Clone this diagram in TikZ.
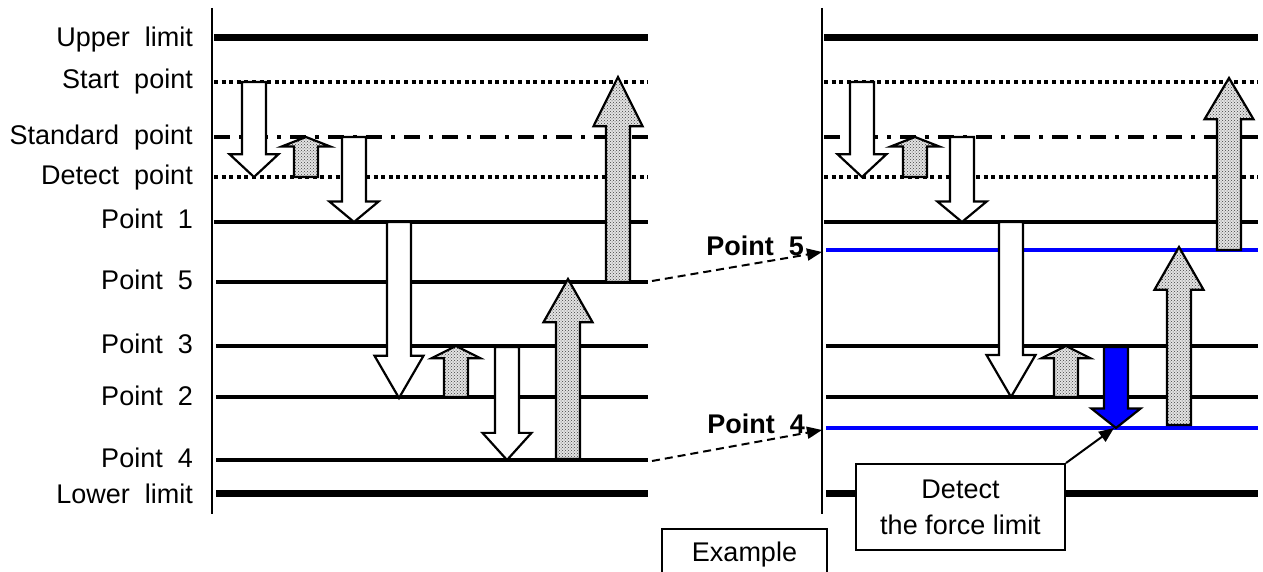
\documentclass[tikz,border=0pt]{standalone}
\usepackage{fontspec}
\setmainfont{Liberation Sans}
\usetikzlibrary{arrows.meta,patterns}

% block arrow: x, tail y, tip y (head grows with the length)
\newcommand{\blockarrow}[4][]{%
  \pgfmathsetmacro\neckY{#4-0.24*(#4-#3)}%
  \draw[blockline,#1] (#2-12,#3) -- (#2-12,\neckY) -- (#2-24.5,\neckY) -- (#2,#4)
    -- (#2+24.5,\neckY) -- (#2+12,\neckY) -- (#2+12,#3) -- cycle;}

\begin{document}
\begin{tikzpicture}[x=1pt, y=-1pt, font=\fontsize{27}{36}\selectfont,
  axis/.style={line width=2pt},
  limit/.style={line width=7pt},
  level/.style={line width=3.5pt},
  dotline/.style={line width=4pt, dash pattern=on 4pt off 3.6pt},
  dashdot/.style={line width=4.5pt, dash pattern=on 16pt off 9pt on 4pt off 9pt},
  newlevel/.style={line width=3.5pt, blue},
  lbl/.style={anchor=base east, inner sep=0pt},
  boldlbl/.style={lbl, font=\fontsize{27}{36}\selectfont\bfseries},
  blockline/.style={draw=black, line width=2.2pt},
  hollow/.style={fill=white},
  dotfill/.style={preaction={fill=gray!22}, pattern=crosshatch dots, pattern color=black!75},
  bluefill/.style={fill=blue},
  link/.style={line width=2pt, dash pattern=on 8pt off 5pt, -{Triangle[length=15pt,width=12pt]}},
  pointer/.style={line width=2pt, -{Triangle[length=15pt,width=12pt]}}]

\useasboundingbox (0,0) rectangle (1263,572);

%osi
\draw[axis] (212,8) -- (212,514);
\draw[axis] (822,8) -- (822,514);

%lijeva razina
\draw[limit] (214,38) -- (648,38);
\draw[dotline] (214,82) -- (648,82);
\draw[dashdot] (214,137) -- (648,137);
\draw[dotline] (214,177) -- (648,177);
\draw[level] (214,222) -- (648,222);
\draw[level] (216,282) -- (648,282);
\draw[level] (216,346) -- (648,346);
\draw[level] (216,397) -- (648,397);
\draw[level] (216,460) -- (648,460);
\draw[limit] (216,493) -- (648,493);

%desna razina
\draw[limit] (824,38) -- (1258,38);
\draw[dotline] (824,82) -- (1258,82);
\draw[dashdot] (824,137) -- (1258,137);
\draw[dotline] (824,177) -- (1258,177);
\draw[level] (824,222) -- (1258,222);
\draw[newlevel] (826,250) -- (1258,250);
\draw[level] (826,346) -- (1258,346);
\draw[level] (826,397) -- (1258,397);
\draw[newlevel] (826,428) -- (1258,428);
\draw[limit] (826,493) -- (1258,493);

%oznake
\node[lbl] (upper) at (193,47) {Upper~~limit};
\node[lbl] (start) at (193,89) {Start~~point};
\node[lbl] (standard) at (193,145) {Standard~~point};
\node[lbl] (detectpt) at (193,185) {Detect~~point};
\node[lbl] (p1) at (193,228) {Point~~1};
\node[lbl] (p5) at (193,289) {Point~~5};
\node[lbl] (p3) at (193,353) {Point~~3};
\node[lbl] (p2) at (193,405) {Point~~2};
\node[lbl] (p4) at (193,467) {Point~~4};
\node[lbl] (lower) at (193,503) {Lower~~limit};

%lijeve strelice
\blockarrow[hollow]{254}{82}{177}
\blockarrow[dotfill]{306}{177}{137}
\blockarrow[hollow]{354}{137}{222}
\blockarrow[hollow]{399}{222}{398}
\blockarrow[dotfill]{456}{397}{346}
\blockarrow[hollow]{507}{347}{460}
\blockarrow[dotfill]{568}{459}{279}
\blockarrow[dotfill]{618}{282}{77}

%desne strelice
\blockarrow[hollow]{862}{82}{177}
\blockarrow[dotfill]{915}{177}{137}
\blockarrow[hollow]{962}{137}{222}
\blockarrow[hollow]{1011}{222}{397}
\blockarrow[dotfill]{1066}{397}{346}
\blockarrow[bluefill]{1116}{347}{428}
\blockarrow[dotfill]{1179}{425}{247}
\blockarrow[dotfill]{1229}{250}{78}

%pomak razina
\coordinate (p5a) at (652,281);
\coordinate (p5b) at (822,252);
\coordinate (p4a) at (652,461);
\coordinate (p4b) at (822,430);
\draw[link] (p5a) -- (p5b);
\draw[link] (p4a) -- (p4b);
\node[boldlbl] (newp5) at (804,255) {Point~~5};
\node[boldlbl] (newp4) at (805,433) {Point~~4};

%okviri
\node[draw, line width=2pt, fill=white, align=center, minimum width=209pt, minimum height=86pt] (detect) at (960.5,507) {Detect\\the force limit};
\coordinate (hit) at (1114,428);
\draw[pointer] (detect.north east) -- (hit);
\node[draw, line width=2pt, minimum width=165pt, minimum height=52pt] (example) at (744.5,555) {Example};

\end{tikzpicture}
\end{document}
